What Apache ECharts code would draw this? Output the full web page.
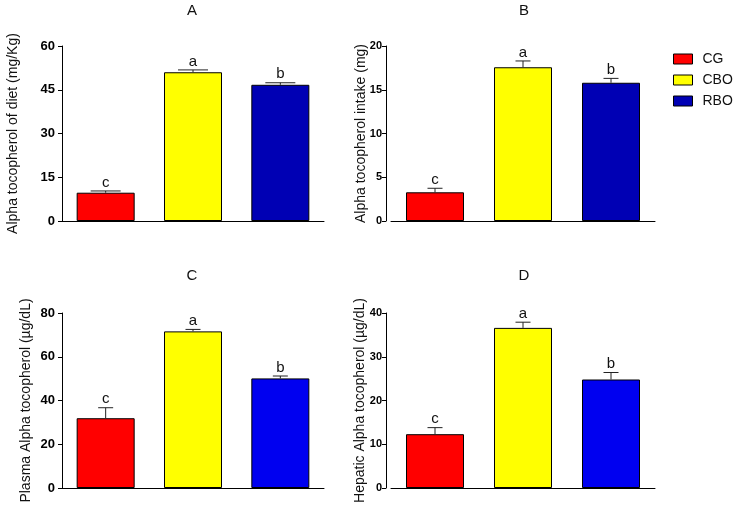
<!DOCTYPE html>
<html><head><meta charset="utf-8">
<script src="https://cdn.jsdelivr.net/npm/echarts@6/dist/echarts.min.js"></script>
<style>html,body{margin:0;padding:0;background:#fff}#c{width:734px;height:506px}</style>
</head><body><div id="c"></div>
<script>
const categories = ['CG', 'CBO', 'RBO'];
const panelTitles = ['A', 'B', 'C', 'D'];
const yNames = ['Alpha tocopherol of diet (mg/Kg)', 'Alpha tocopherol intake (mg)', 'Plasma Alpha tocopherol (µg/dL)', 'Hepatic Alpha tocopherol (µg/dL)'];
const yMax = [60, 20, 80, 40];
const yInterval = [15, 5, 20, 10];
const meansA = [9.7, 51.0, 46.7];
const errA = [0.6, 0.8, 0.7];
const meansB = [3.28, 17.57, 15.8];
const errB = [0.46, 0.72, 0.5];
const meansC = [31.9, 71.6, 50.1];
const errC = [4.8, 0.9, 1.1];
const meansD = [12.3, 36.6, 24.8];
const errD = [1.5, 1.3, 1.6];
const lettersA = ['c', 'a', 'b'];
const lettersB = ['c', 'a', 'b'];
const lettersC = ['c', 'a', 'b'];
const lettersD = ['c', 'a', 'b'];

const means = [meansA, meansB, meansC, meansD];
const errs = [errA, errB, errC, errD];
const letters = [lettersA, lettersB, lettersC, lettersD];

const layout = [
  {left: 62, top: 46, width: 262, height: 175, offset: 0, nameGap: 42, cap: 15, tx: 192, ty: 3, lf: 13, lm: 7},
  {left: 391, top: 46, width: 264, height: 175, offset: 5, nameGap: 18, cap: 7.5, tx: 524, ty: 3, lf: 11, lm: 4},
  {left: 62, top: 313, width: 262, height: 175, offset: 0, nameGap: 29, cap: 7.5, tx: 192, ty: 268, lf: 13, lm: 7},
  {left: 391, top: 313, width: 264, height: 175, offset: 5, nameGap: 19, cap: 7.5, tx: 524, ty: 268, lf: 11, lm: 4}
];
const colorsTop = ['#ff0000', '#ffff00', '#0000b4'];
const colorsBottom = ['#ff0000', '#ffff00', '#0000f0'];

const grids = [], xAxes = [], yAxes = [], series = [], titles = [];
layout.forEach((L, p) => {
  grids.push({left: L.left, top: L.top, width: L.width, height: L.height});
  titles.push({text: panelTitles[p], left: L.tx, top: L.ty, textAlign: 'center', padding: 0,
    textStyle: {fontFamily: 'Liberation Sans, Arial', fontSize: 15, fontWeight: 'normal', color: '#111'}});
  xAxes.push({type: 'category', gridIndex: p, data: categories,
    axisLine: {lineStyle: {color: '#000', width: 1}},
    axisTick: {alignWithLabel: true, length: 5, interval: (i) => i === 1, lineStyle: {color: '#000'}},
    axisLabel: {show: false}, splitLine: {show: false}});
  yAxes.push({type: 'value', gridIndex: p, min: 0, max: yMax[p], interval: yInterval[p], offset: L.offset,
    name: yNames[p], nameLocation: 'middle', nameGap: L.nameGap, nameMoveOverlap: false,
    nameTextStyle: {fontFamily: 'Liberation Sans, Arial', fontSize: 14, color: '#111'},
    axisLine: {show: true, lineStyle: {color: '#000', width: 1}},
    axisTick: {show: true, length: 4, lineStyle: {color: '#000'}},
    axisLabel: {fontFamily: 'Liberation Sans, Arial', fontSize: L.lf, fontWeight: 'bold', color: '#000', margin: L.lm},
    splitLine: {show: false}});
  const cols = p < 2 ? colorsTop : colorsBottom;
  categories.forEach((cat, k) => {
    series.push({type: 'bar', name: cat, xAxisIndex: p, yAxisIndex: p, barWidth: 58, barGap: '-100%',
      itemStyle: {color: cols[k], borderColor: '#000', borderWidth: 1},
      data: means[p].map((v, j) => j === k ? v : '-'), z: 2, animation: false});
  });
  series.push({type: 'custom', xAxisIndex: p, yAxisIndex: p, z: 5, animation: false,
    data: means[p].map((v, j) => [j, v, errs[p][j]]),
    renderItem: (params, api) => {
      const x = api.value(0), v = api.value(1), e = api.value(2);
      const a = api.coord([x, v]);
      const b = api.coord([x, v + e]);
      return {type: 'group', children: [
        {type: 'line', shape: {x1: a[0], y1: a[1], x2: b[0], y2: b[1]}, style: {stroke: '#222', lineWidth: 1}},
        {type: 'line', shape: {x1: b[0] - L.cap, y1: b[1], x2: b[0] + L.cap, y2: b[1]}, style: {stroke: '#222', lineWidth: 1}},
        {type: 'text', style: {text: letters[p][params.dataIndex], x: b[0], y: b[1] - 1, textAlign: 'center', textVerticalAlign: 'bottom',
          font: '15px "Liberation Sans", Arial', fill: '#111'}}
      ]};
    }});
});

const chart = echarts.init(document.getElementById('c'), null, {renderer: 'canvas'});
chart.setOption({
  animation: false,
  title: titles,
  legend: {data: categories, orient: 'vertical', left: 673, top: 52, padding: 0, itemWidth: 19, itemHeight: 10, itemGap: 7,
    icon: 'rect', itemStyle: {borderColor: '#000', borderWidth: 1},
    textStyle: {fontFamily: 'Liberation Sans, Arial', fontSize: 14, color: '#111', lineHeight: 14, padding: [0, 0, 0, 5]}},
  grid: grids, xAxis: xAxes, yAxis: yAxes, series: series
});
</script></body></html>
